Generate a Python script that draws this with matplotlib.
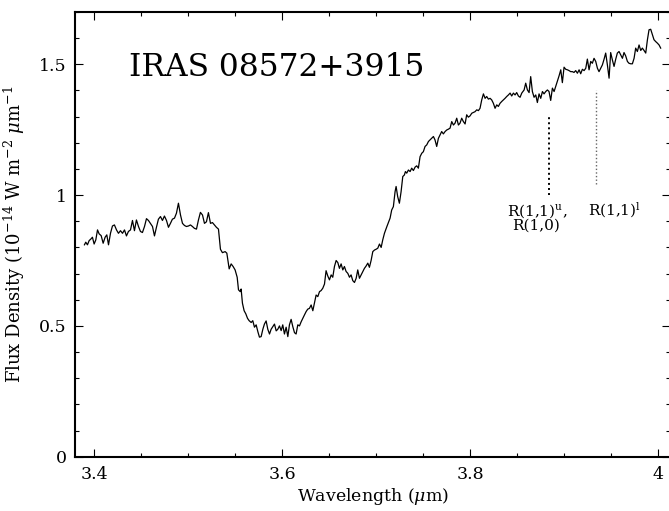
"""Recreate the IRAS 08572+3915 L-band spectrum figure."""

from __future__ import annotations

import matplotlib

matplotlib.use("Agg")

import matplotlib.pyplot as plt
from matplotlib.axes import Axes
from matplotlib.ticker import FormatStrFormatter, MultipleLocator

# Spectrum (wavelength in micron, flux in 1e-14 W m^-2 um^-1)
WAVELENGTH = [
    3.3897, 3.3911, 3.3929, 3.3947, 3.3965, 3.3982, 3.4000, 3.4018, 3.4036, 3.4053,
    3.4075, 3.4096, 3.4117, 3.4135, 3.4153, 3.4174, 3.4195, 3.4216, 3.4238, 3.4259,
    3.4280, 3.4302, 3.4323, 3.4344, 3.4365, 3.4387, 3.4408, 3.4429, 3.4450, 3.4472,
    3.4493, 3.4514, 3.4536, 3.4557, 3.4578, 3.4599, 3.4621, 3.4642, 3.4663, 3.4684,
    3.4706, 3.4727, 3.4748, 3.4770, 3.4791, 3.4812, 3.4833, 3.4855, 3.4876, 3.4897,
    3.4919, 3.4940, 3.4961, 3.4982, 3.5004, 3.5025, 3.5046, 3.5067, 3.5089, 3.5110,
    3.5131, 3.5153, 3.5174, 3.5195, 3.5216, 3.5238, 3.5259, 3.5280, 3.5301, 3.5323,
    3.5344, 3.5365,
    3.5394, 3.5412, 3.5437, 3.5458, 3.5479, 3.5500, 3.5522, 3.5536, 3.5554, 3.5564,
    3.5578, 3.5596, 3.5614, 3.5632, 3.5649, 3.5671, 3.5688, 3.5706, 3.5724, 3.5742,
    3.5759, 3.5777, 3.5795, 3.5812, 3.5830, 3.5848, 3.5866, 3.5883, 3.5901, 3.5919,
    3.5937, 3.5954, 3.5972, 3.5990, 3.6007, 3.6025, 3.6043, 3.6061, 3.6078, 3.6096,
    3.6114, 3.6132, 3.6149, 3.6167, 3.6185, 3.6203, 3.6220, 3.6238, 3.6256, 3.6273,
    3.6291, 3.6309, 3.6327, 3.6344, 3.6362, 3.6380, 3.6398, 3.6415, 3.6433, 3.6451,
    3.6468, 3.6486, 3.6504, 3.6522, 3.6539, 3.6557, 3.6575, 3.6593, 3.6610, 3.6628,
    3.6646, 3.6663, 3.6681, 3.6699, 3.6717, 3.6734, 3.6752, 3.6770, 3.6788, 3.6805,
    3.6823, 3.6841, 3.6859, 3.6876, 3.6894, 3.6912, 3.6929, 3.6947, 3.6965, 3.6983,
    3.7000, 3.7018, 3.7036, 3.7054, 3.7071, 3.7089, 3.7113,
    3.7149, 3.7166, 3.7184, 3.7202, 3.7213, 3.7230, 3.7248, 3.7266, 3.7284, 3.7301,
    3.7312, 3.7326, 3.7344, 3.7362, 3.7379, 3.7397, 3.7415, 3.7432, 3.7450, 3.7468,
    3.7486, 3.7503, 3.7521, 3.7539, 3.7557, 3.7574, 3.7592, 3.7610, 3.7627, 3.7645,
    3.7663, 3.7681, 3.7698, 3.7716, 3.7734, 3.7752, 3.7769, 3.7787, 3.7805, 3.7823,
    3.7840, 3.7858, 3.7876, 3.7893, 3.7911, 3.7929, 3.7947, 3.7964, 3.7982, 3.8000,
    3.8018, 3.8035, 3.8053, 3.8071, 3.8089, 3.8106, 3.8124, 3.8142, 3.8160, 3.8177,
    3.8195, 3.8213, 3.8230, 3.8248, 3.8266, 3.8284, 3.8301, 3.8319, 3.8337, 3.8355,
    3.8372, 3.8390, 3.8408, 3.8426, 3.8443, 3.8461, 3.8479, 3.8496, 3.8514, 3.8532,
    3.8550,
    3.8575, 3.8592, 3.8610, 3.8628, 3.8645, 3.8663, 3.8681, 3.8699, 3.8716, 3.8734,
    3.8752, 3.8770, 3.8787, 3.8805, 3.8823, 3.8840, 3.8858, 3.8876, 3.8894, 3.8911,
    3.8929, 3.8947, 3.8965, 3.8982, 3.9000, 3.9018, 3.9036, 3.9053, 3.9071, 3.9089,
    3.9106, 3.9124, 3.9142, 3.9160, 3.9177, 3.9195, 3.9213, 3.9231, 3.9248, 3.9266,
    3.9284, 3.9301, 3.9319, 3.9337, 3.9355, 3.9372, 3.9390, 3.9408, 3.9426, 3.9443,
    3.9461, 3.9479, 3.9496, 3.9514, 3.9532, 3.9550, 3.9567, 3.9585, 3.9603, 3.9621,
    3.9638, 3.9656, 3.9674, 3.9691, 3.9709, 3.9727, 3.9745, 3.9762, 3.9780, 3.9798,
    3.9816, 3.9833, 3.9851, 3.9869, 3.9887, 3.9904, 3.9922, 3.9940, 3.9957, 3.9975,
    3.9993, 4.0011, 4.0028,
]

FLUX = [
    0.810, 0.820, 0.810, 0.826, 0.832, 0.839, 0.813, 0.829, 0.867, 0.852,
    0.845, 0.816, 0.839, 0.848, 0.810, 0.854, 0.882, 0.886, 0.867, 0.854,
    0.864, 0.854, 0.867, 0.844, 0.861, 0.867, 0.903, 0.864, 0.905, 0.880,
    0.861, 0.857, 0.880, 0.910, 0.903, 0.892, 0.880, 0.844, 0.877, 0.908,
    0.918, 0.903, 0.920, 0.903, 0.877, 0.892, 0.908, 0.912, 0.931, 0.969,
    0.924, 0.892, 0.884, 0.880, 0.882, 0.886, 0.880, 0.873, 0.870, 0.905,
    0.934, 0.924, 0.892, 0.898, 0.933, 0.892, 0.895, 0.886, 0.877, 0.870,
    0.793, 0.780,
    0.784, 0.778, 0.718, 0.737, 0.727, 0.714, 0.686, 0.638, 0.631, 0.641,
    0.587, 0.558, 0.546, 0.529, 0.520, 0.513, 0.520, 0.495, 0.504, 0.478,
    0.457, 0.459, 0.487, 0.507, 0.519, 0.487, 0.469, 0.487, 0.497, 0.507,
    0.481, 0.487, 0.500, 0.482, 0.504, 0.469, 0.495, 0.459, 0.504, 0.525,
    0.497, 0.474, 0.469, 0.504, 0.500, 0.516, 0.529, 0.542, 0.555, 0.564,
    0.567, 0.580, 0.558, 0.587, 0.618, 0.612, 0.631, 0.635, 0.644, 0.660,
    0.711, 0.691, 0.676, 0.695, 0.686, 0.727, 0.750, 0.742, 0.720, 0.737,
    0.714, 0.727, 0.708, 0.701, 0.686, 0.695, 0.673, 0.666, 0.682, 0.714,
    0.682, 0.695, 0.708, 0.720, 0.729, 0.740, 0.724, 0.750, 0.784, 0.790,
    0.793, 0.797, 0.813, 0.800, 0.829, 0.854, 0.878,
    0.912, 0.943, 0.956, 1.013, 1.033, 0.994, 0.969, 1.013, 1.071, 1.077,
    1.090, 1.084, 1.096, 1.090, 1.103, 1.094, 1.107, 1.112, 1.103, 1.147,
    1.160, 1.166, 1.186, 1.192, 1.205, 1.211, 1.217, 1.224, 1.211, 1.186,
    1.217, 1.230, 1.243, 1.234, 1.243, 1.249, 1.252, 1.256, 1.281, 1.268,
    1.275, 1.294, 1.268, 1.275, 1.294, 1.281, 1.272, 1.307, 1.298, 1.303,
    1.313, 1.316, 1.319, 1.326, 1.323, 1.332, 1.364, 1.387, 1.370, 1.377,
    1.367, 1.370, 1.364, 1.351, 1.332, 1.345, 1.339, 1.351, 1.358, 1.364,
    1.370, 1.377, 1.383, 1.390, 1.379, 1.390, 1.383, 1.392, 1.379, 1.374,
    1.390,
    1.402, 1.428, 1.402, 1.392, 1.453, 1.396, 1.374, 1.383, 1.354, 1.387,
    1.370, 1.396, 1.387, 1.396, 1.402, 1.396, 1.362, 1.409, 1.396, 1.415,
    1.434, 1.456, 1.479, 1.430, 1.489, 1.481, 1.479, 1.476, 1.472, 1.472,
    1.469, 1.476, 1.466, 1.479, 1.464, 1.481, 1.476, 1.485, 1.520, 1.479,
    1.511, 1.504, 1.523, 1.511, 1.485, 1.472, 1.485, 1.498, 1.520, 1.543,
    1.498, 1.447, 1.545, 1.517, 1.492, 1.520, 1.543, 1.549, 1.536, 1.523,
    1.545, 1.532, 1.511, 1.504, 1.502, 1.502, 1.523, 1.562, 1.549, 1.574,
    1.553, 1.562, 1.553, 1.543, 1.594, 1.632, 1.634, 1.613, 1.594, 1.587,
    1.581, 1.574, 1.562,
]

# H3+ line markers: wavelength, lower and upper flux of the dotted marker
LINE_WAVELENGTH = [3.8840, 3.9337]
LINE_BOTTOM = [1.000, 1.044]
LINE_TOP = [1.300, 1.400]
LINE_COLOR = ["black", "#666666"]

X_TICKS = [3.4, 3.6, 3.8, 4.0]
Y_TICKS = [0.0, 0.5, 1.0, 1.5]

SERIF = "DejaVu Serif"


def _style_axes(ax: Axes) -> None:
    ax.set_xlim(3.38, 4.0128)
    ax.set_ylim(0.0, 1.70)
    ax.set_xticks(X_TICKS)
    ax.set_yticks(Y_TICKS)
    ax.xaxis.set_minor_locator(MultipleLocator(0.05))
    ax.yaxis.set_minor_locator(MultipleLocator(0.1))
    ax.xaxis.set_major_formatter(FormatStrFormatter("%g"))
    ax.yaxis.set_major_formatter(FormatStrFormatter("%g"))
    ax.tick_params(
        which="both", direction="in", top=True, right=True, width=0.8, colors="black"
    )
    ax.tick_params(which="major", length=5.5, labelsize=12.5)
    ax.tick_params(which="minor", length=3.2)
    ax.tick_params(axis="x", which="major", pad=7)
    ax.tick_params(axis="y", which="major", pad=6)
    for spine in ax.spines.values():
        spine.set_linewidth(1.5)


def _draw_markers(ax: Axes) -> None:
    for wl, low, high, color in zip(LINE_WAVELENGTH, LINE_BOTTOM, LINE_TOP, LINE_COLOR):
        width = 1.4 if color == "black" else 1.0
        ax.plot([wl, wl], [low, high], linestyle=(0, (1, 1.6)), color=color, linewidth=width)

    label_kw = dict(ha="center", va="baseline", fontsize=11, family=SERIF)
    ax.text(3.8713, 0.9225, r"R(1,1)$^{\rm u}$,", **label_kw)
    ax.text(3.8705, 0.868, "R(1,0)", **label_kw)
    ax.text(3.9532, 0.9225, r"R(1,1)$^{\rm l}$", **label_kw)


def main() -> None:
    plt.rcParams["font.family"] = SERIF
    plt.rcParams["mathtext.fontset"] = "dejavuserif"

    fig = plt.figure(figsize=(6.69, 5.11), dpi=100)
    ax = fig.add_axes([0.1126, 0.1063, 0.889, 0.8702])

    ax.plot(WAVELENGTH, FLUX, color="black", linewidth=0.9)
    _draw_markers(ax)

    ax.text(
        0.090, 0.856, "IRAS 08572+3915",
        transform=ax.transAxes, fontsize=22.5, va="baseline", ha="left",
    )

    _style_axes(ax)
    ax.set_xlabel(r"Wavelength ($\mu$m)", fontsize=12.5, labelpad=2)
    # the reference label has no closing parenthesis
    ax.set_ylabel(
        r"Flux Density (10$^{-14}$ W m$^{-2}$ $\mu$m$^{-1}$", fontsize=13, labelpad=9
    )

    fig.savefig("out.png", dpi=100)
    plt.close(fig)


if __name__ == "__main__":
    main()
